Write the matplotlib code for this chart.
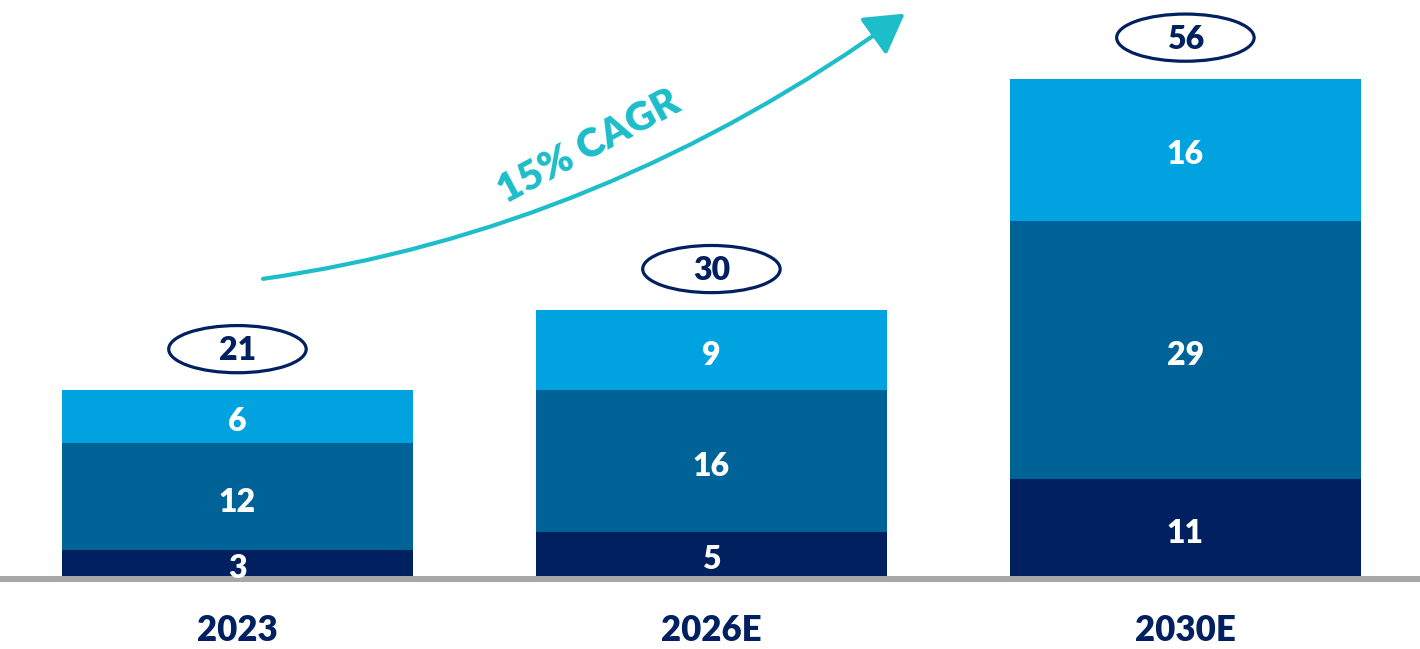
import matplotlib.pyplot as plt
from matplotlib.patches import Ellipse, FancyArrowPatch
from matplotlib.path import Path
import numpy as np

plt.rcParams['font.family'] = ['Lato', 'DejaVu Sans']

years = ['2023', '2026E', '2030E']
bottom_seg = [3, 5, 11]
middle_seg = [12, 16, 29]
top_seg = [6, 9, 16]
totals = [21, 30, 56]
cagr_label = '15% CAGR'

navy = '#002060'
mid_blue = '#006398'
light_blue = '#00A3E0'
teal = '#1DBDC9'
grey = '#A8A6A7'
wt = 'heavy'

fig = plt.figure(figsize=(14.2, 6.49), dpi=100)
ax = fig.add_axes([0, 0, 1, 1])
ax.set_xlim(-0.501, 2.495)
ax.set_ylim(-8.09, 64.83)
ax.axis('off')

x = np.arange(len(years))
w = 0.74
segs = [bottom_seg, middle_seg, top_seg]
cols = [navy, mid_blue, light_blue]
base = np.zeros(len(years))
for vals, c in zip(segs, cols):
    ax.bar(x, vals, w, bottom=base, color=c, edgecolor='none', zorder=2)
    for xi, b, v in zip(x, base, vals):
        ax.text(xi, b + v / 2 - 0.3, str(v), ha='center', va='center_baseline',
                color='white', fontsize=23, fontweight=wt, zorder=5)
    base = base + np.array(vals)

# baseline
ax.axhline(-0.17, color=grey, lw=4.3, zorder=3)

# totals in ellipses
for xi, t in zip(x, totals):
    ax.add_patch(Ellipse((xi, t + 4.6), 0.29, 5.3, facecolor='white',
                         edgecolor=navy, lw=2.3, zorder=4))
    ax.text(xi, t + 4.7, str(t), ha='center', va='center_baseline', color=navy,
            fontsize=23, fontweight=wt, zorder=5)

# year labels
for xi, yr in zip(x, years):
    ax.text(xi, -6.0, yr, ha='center', va='center', color=navy,
            fontsize=25, fontweight=wt)

# CAGR arrow
arc = Path([(0.054, 33.5), (0.771, 38.9), (1.408, 63.3)],
           [Path.MOVETO, Path.CURVE3, Path.CURVE3])
ax.add_patch(FancyArrowPatch(path=arc, arrowstyle='-|>,head_length=1.2,head_width=0.7',
                             mutation_scale=20, color=teal, lw=3, zorder=4))
ax.text(0.741, 48.3, cagr_label, ha='center', va='center', color=teal,
        fontsize=29, fontweight=wt, rotation=28, rotation_mode='anchor')

fig.savefig('out.png', dpi=100)
